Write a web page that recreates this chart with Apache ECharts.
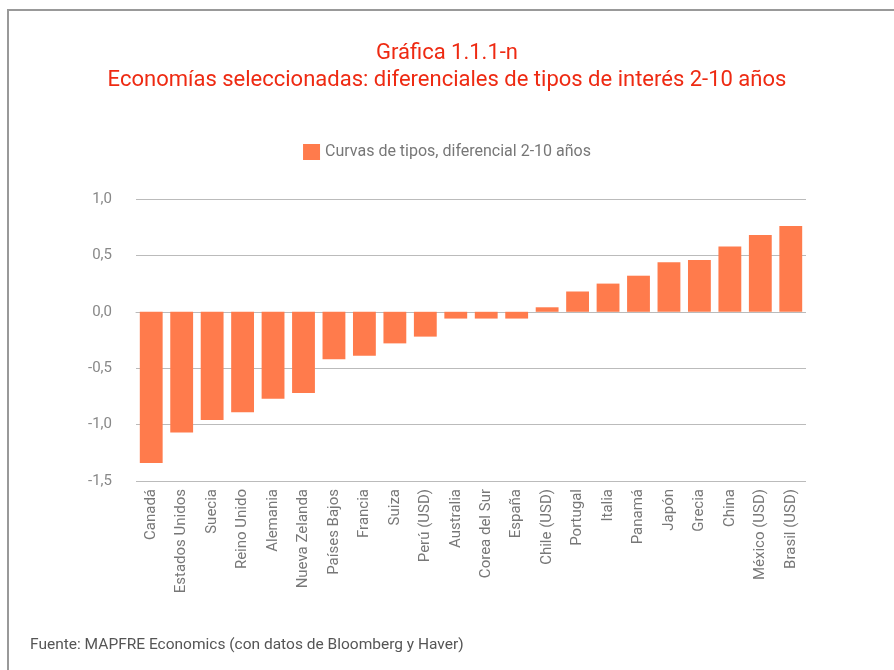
<!DOCTYPE html>
<html>
<head>
<meta charset="utf-8">
<script src="https://cdn.jsdelivr.net/npm/echarts@6/dist/echarts.min.js"></script>
<style>
  html, body { margin: 0; padding: 0; background: #fff; }
  #chart { width: 894px; height: 670px; }
</style>
</head>
<body>
<div id="chart"></div>
<script>
// categorías y valores (diferencial 2-10 años)
var paises = ['Canadá', 'Estados Unidos', 'Suecia', 'Reino Unido', 'Alemania', 'Nueva Zelanda',
  'Países Bajos', 'Francia', 'Suiza', 'Perú (USD)', 'Australia', 'Corea del Sur', 'España',
  'Chile (USD)', 'Portugal', 'Italia', 'Panamá', 'Japón', 'Grecia', 'China', 'México (USD)', 'Brasil (USD)'];
var diferencial = [-1.34, -1.07, -0.96, -0.89, -0.77, -0.72, -0.42, -0.39, -0.28, -0.22,
  -0.06, -0.06, -0.06, 0.04, 0.18, 0.25, 0.32, 0.44, 0.46, 0.58, 0.68, 0.76];
var serieNombre = 'Curvas de tipos, diferencial 2-10 años';

var myChart = echarts.init(document.getElementById('chart'));
var fuente = 'Roboto, "DejaVu Sans", sans-serif';

var option = {
  backgroundColor: '#fff',
  animation: false,
  title: {
    text: 'Gráfica 1.1.1-n\nEconomías seleccionadas: diferenciales de tipos de interés 2-10 años',
    left: 'center',
    top: 35,
    textStyle: {
      color: '#ee2a12',
      fontFamily: fuente,
      fontWeight: 'normal',
      fontSize: 22,
      lineHeight: 27
    }
  },
  legend: {
    data: [serieNombre],
    top: 139,
    left: 'center',
    icon: 'rect',
    itemWidth: 17,
    itemHeight: 16,
    itemGap: 10,
    textStyle: { color: '#777', fontSize: 16, fontFamily: fuente }
  },
  grid: { left: 136, right: 88, top: 199, bottom: 189 },
  xAxis: {
    type: 'category',
    data: paises,
    axisLine: { lineStyle: { color: '#bbb', type: 'dotted', width: 1 } },
    axisTick: { show: false },
    axisLabel: {
      rotate: 90,
      interval: 0,
      color: '#777',
      fontSize: 15,
      fontFamily: fuente,
      margin: 8
    }
  },
  yAxis: {
    type: 'value',
    min: -1.5,
    max: 1.0,
    interval: 0.5,
    axisLine: { show: false },
    axisTick: { show: false },
    splitLine: { lineStyle: { color: '#bbb', width: 1 } },
    axisLabel: {
      color: '#888',
      fontSize: 15,
      fontFamily: fuente,
      margin: 24,
      formatter: function (v) { return v.toFixed(1).replace('.', ','); }
    }
  },
  series: [{
    name: serieNombre,
    type: 'bar',
    data: diferencial,
    barCategoryGap: '25%',
    itemStyle: { color: '#ff7b4c' }
  }],
  graphic: [
    {
      type: 'rect',
      shape: { x: 8, y: 10, width: 900, height: 700 },
      style: { fill: 'none', stroke: '#999', lineWidth: 2 },
      silent: true
    },
    {
      type: 'text',
      left: 30,
      top: 637,
      style: {
        text: 'Fuente: MAPFRE Economics (con datos de Bloomberg y Haver)',
        fill: '#555',
        fontSize: 15.5,
        fontFamily: fuente
      }
    }
  ]
};
myChart.setOption(option);
</script>
</body>
</html>
